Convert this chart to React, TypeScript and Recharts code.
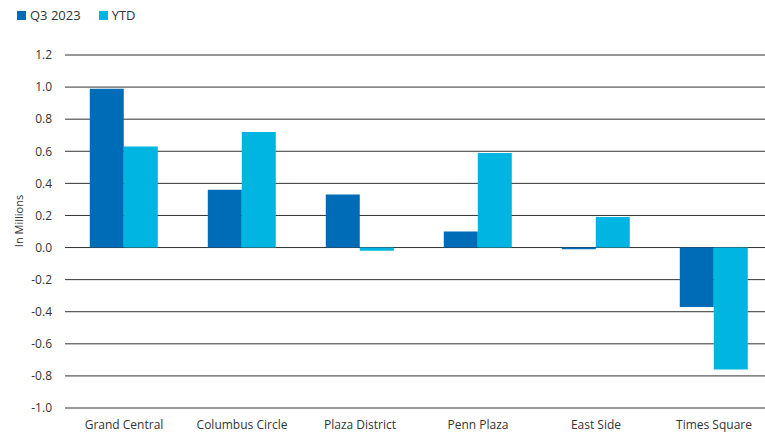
import { BarChart, Bar, XAxis, YAxis, CartesianGrid } from 'recharts';

const districts = ['Grand Central', 'Columbus Circle', 'Plaza District', 'Penn Plaza', 'East Side', 'Times Square'];
const q3Values = [0.99, 0.36, 0.33, 0.1, -0.01, -0.37];
const ytdValues = [0.63, 0.72, -0.02, 0.59, 0.19, -0.76];
const yTicks = [-1.0, -0.8, -0.6, -0.4, -0.2, 0.0, 0.2, 0.4, 0.6, 0.8, 1.0, 1.2];

const data = districts.map((name, i) => ({ name, q3: q3Values[i], ytd: ytdValues[i] }));

const DARK = '#006BB6';
const LIGHT = '#00B5E2';
const FONT = '"Open Sans", "Noto Sans", sans-serif';

// legend drawn as plain html over the chart so it does not push the plot down
const LegendBox = () => (
  <div
    style={{
      position: 'absolute',
      left: 17,
      top: 6,
      display: 'flex',
      alignItems: 'center',
      fontFamily: FONT,
      fontSize: 13,
      color: '#333',
    }}
  >
    <span style={{ width: 9, height: 9, background: DARK, display: 'inline-block', marginRight: 4 }} />
    <span style={{ marginRight: 18 }}>Q3 2023</span>
    <span style={{ width: 9, height: 9, background: LIGHT, display: 'inline-block', marginRight: 4 }} />
    <span>YTD</span>
  </div>
);

export default function App() {
  return (
    <div style={{ position: 'absolute', left: 0, top: 0, width: 765, height: 433, background: '#fff', overflow: 'hidden' }}>
      {/* plot runs a little past the right edge, like the original */}
      <BarChart
        width={773}
        height={433}
        data={data}
        margin={{ top: 55, right: 0, left: 0, bottom: 0 }}
        barCategoryGap="21%"
        barGap={0}
      >
        <CartesianGrid vertical={false} stroke="#333" strokeWidth={1} />
        <XAxis
          dataKey="name"
          height={25}
          axisLine={false}
          tickLine={false}
          tickMargin={6}
          tick={{ fill: '#333', fontSize: 12, fontFamily: FONT }}
          interval={0}
        />
        <YAxis
          width={65}
          domain={[-1, 1.2]}
          ticks={yTicks}
          interval={0}
          axisLine={false}
          tickLine={false}
          tickMargin={7}
          tickFormatter={(v: number) => v.toFixed(1)}
          tick={{ fill: '#333', fontSize: 12, fontFamily: FONT }}
          label={{
            content: () => (
              <text
                x={18}
                y={221}
                transform="rotate(-90 18 221)"
                textAnchor="middle"
                dominantBaseline="central"
                fill="#333"
                fontSize={11}
                fontFamily={FONT}
              >
                In Millions
              </text>
            ),
          }}
        />
        <Bar dataKey="q3" name="Q3 2023" fill={DARK} isAnimationActive={false} />
        <Bar dataKey="ytd" name="YTD" fill={LIGHT} isAnimationActive={false} />
      </BarChart>
      <LegendBox />
    </div>
  );
}
